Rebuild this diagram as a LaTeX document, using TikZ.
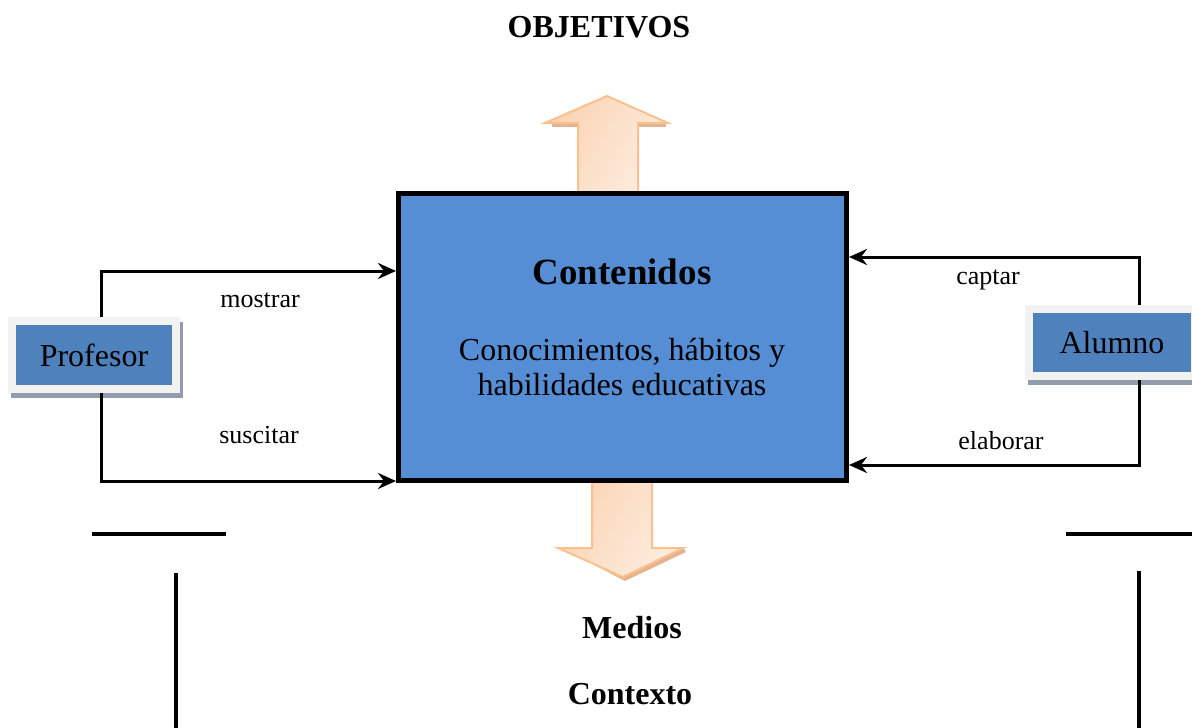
\documentclass[tikz,border=0pt]{standalone}
\usepackage{fontspec}
\setmainfont{Liberation Serif}
\usetikzlibrary{arrows.meta,shadows}

\definecolor{cajaazul}{RGB}{85,142,213}
\definecolor{rolazul}{RGB}{79,129,189}
\definecolor{marco}{RGB}{242,242,242}
\definecolor{sombra}{RGB}{146,156,172}
\definecolor{durazno}{RGB}{250,192,143}
\definecolor{duraznoclaro}{RGB}{253,237,224}
\definecolor{duraznomedio}{RGB}{251,212,180}
\definecolor{duraznosombra}{RGB}{228,180,142}

\begin{document}
\begin{tikzpicture}[x=0.5pt,y=-0.5pt,
  flecha/.style={line width=1.5pt,-{Stealth[length=9pt,width=8pt,inset=3pt]}},
  rol/.style={fill=rolazul,draw=marco,line width=4pt,outer sep=2pt,inner sep=0pt,
    drop shadow={shadow xshift=1.5pt,shadow yshift=-2.5pt,fill=sombra,draw=sombra,opacity=1},
    font=\fontsize{16}{19}\selectfont},
  etiqueta/.style={font=\fontsize{13}{16}\selectfont},
  titulo/.style={font=\fontsize{16}{19}\selectfont\bfseries},
  bloque/.style={draw=durazno,line width=1pt,left color=duraznomedio,right color=duraznoclaro,shading angle=60}]
  \useasboundingbox (0,0) rectangle (1192,727);

  % flechas gruesas
  \fill[duraznosombra] (552,122) rectangle (666,127);
  \draw[bloque] (578,196) -- (578,123) -- (545,123) -- (607,96) -- (668,123)
    -- (638,123) -- (638,196) -- cycle;
  \fill[duraznosombra] (562,548) -- (625,581) -- (686,552) -- (683,548) -- cycle;
  \draw[bloque] (592,478) -- (592,548) -- (558,548) -- (623,577) -- (683,548)
    -- (652,548) -- (652,478) -- cycle;

  % caja central
  \node[draw=black,line width=2.5pt,fill=cajaazul,minimum width=224pt,
    minimum height=143.25pt,inner sep=0pt] (contenidos) at (622.5,337.25) {};
  \node[font=\fontsize{18.5}{22}\selectfont\bfseries] (titcont) at (622,272) {Contenidos};
  \node[align=center,font=\fontsize{16}{17.5}\selectfont] (cono) at (622,367)
    {Conocimientos, hábitos y\\habilidades educativas};

  % profesor y alumno
  \node[rol,minimum width=82pt,minimum height=34pt] (prof) at (94,355) {Profesor};
  \node[rol,minimum width=83pt,minimum height=33.5pt] (alum) at (1112,342.5) {Alumno};

  \coordinate (pa) at (101,271);
  \coordinate (pb) at (101,481);
  \coordinate (aa) at (1139,257);
  \coordinate (ab) at (1139,465);

  \draw[flecha] (prof.north -| pa) -- (pa) -- (contenidos.west |- pa);
  \draw[flecha] (prof.south -| pb) -- (pb) -- (contenidos.west |- pb);
  \draw[flecha] (alum.north -| aa) -- (aa) -- (contenidos.east |- aa);
  \draw[flecha] (alum.south -| ab) -- (ab) -- (contenidos.east |- ab);

  \node[etiqueta] (mostrar) at (260,300) {mostrar};
  \node[etiqueta] (suscitar) at (259,435) {suscitar};
  \node[etiqueta] (captar) at (988,280) {captar};
  \node[etiqueta] (elaborar) at (1001,441) {elaborar};

  % lineas de abajo
  \draw[line width=2pt] (92,534) -- (226,534);
  \draw[line width=2pt] (176,573) -- (176,730);
  \draw[line width=2pt] (1066,534) -- (1195,534);
  \draw[line width=2pt] (1139,571) -- (1139,730);

  \node[titulo] (objetivos) at (599,27) {OBJETIVOS};
  \node[titulo] (medios) at (632,628) {Medios};
  \node[titulo] (contexto) at (630,694) {Contexto};
\end{tikzpicture}
\end{document}
